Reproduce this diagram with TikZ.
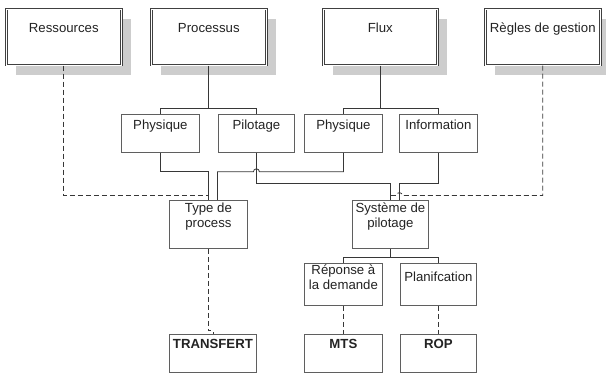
\documentclass[tikz,border=0pt]{standalone}
\usepackage{fontspec}
\setmainfont{Liberation Sans}
\usepackage{tikz}
\usetikzlibrary{positioning,calc,shadows}
\definecolor{boxgray}{RGB}{95,95,95}
\definecolor{linegray}{RGB}{55,55,55}
\definecolor{txtgray}{RGB}{35,35,35}
\definecolor{shadowgray}{RGB}{205,205,205}

\begin{document}
\begin{tikzpicture}[x=1pt, y=-1pt,
    lbl/.style={anchor=north, inner sep=0pt, align=center, text=txtgray, font=\fontsize{13.2}{15}\selectfont},
    box/.style={draw=boxgray, fill=white, line width=0.8pt, anchor=north west, inner sep=0pt, minimum width=78pt, minimum height=38pt},
    topbox/.style={box, draw=black!75, line width=0.6pt, double=white, double distance=1.2pt,
        minimum width=115pt, minimum height=56pt,
        drop shadow={shadow xshift=10pt, shadow yshift=-10pt, fill=shadowgray, opacity=1},
        label={[lbl, yshift=-14pt]north:{#1}}},
    midbox/.style={box, label={[lbl, yshift=-6pt]north:{#1}}},
    procbox/.style={box, minimum height=48pt, label={[lbl, yshift=-3pt]north:{#1}}},
    endbox/.style={box, label={[lbl, yshift=-5pt, font=\fontsize{13.2}{15}\selectfont\bfseries]north:{#1}}},
    conn/.style={draw=linegray, line width=0.8pt},
    link/.style={conn, dash pattern=on 5pt off 3pt},
]
    \useasboundingbox (0,0) rectangle (606,374);

    % top row
    \node[topbox=Ressources] (res) at (6,9) {};
    \node[topbox=Processus] (proc) at (151,9) {};
    \node[topbox=Flux, minimum width=114pt] (flux) at (323,9) {};
    \node[topbox=Règles de gestion] (regl) at (485,9) {};

    % second row
    \node[midbox=Physique] (phyA) at (121,114) {};
    \node[midbox=Pilotage, minimum width=76pt] (pil) at (218,114) {};
    \node[midbox=Physique] (phyB) at (304,114) {};
    \node[midbox=Information] (info) at (399,114) {};

    % third row
    \node[procbox={Type de\\process}] (type) at (169,200) {};
    \node[procbox={Système de\\pilotage}, minimum width=76pt] (sys) at (352,200) {};

    \node[box, minimum height=42pt, label={[lbl, yshift=-1.5pt]north:{Réponse à\\la demande}}] (rep) at (304,263) {};
    \node[box, minimum height=42pt, minimum width=76pt, label={[lbl, yshift=-9pt]north:Planifcation}] (plan) at (400,263) {};

    % bottom row
    \node[endbox=TRANSFERT, minimum width=87pt] (trans) at (169,334) {};
    \node[endbox=MTS] (mts) at (304,334) {};
    \node[endbox=ROP, minimum width=76pt] (rop) at (400,334) {};

    % trees
    \draw[conn] (proc.south) -- ++(0,43);
    \draw[conn] (phyA.north) |- ($(proc.south)+(0,43)$) -| (pil.north);
    \draw[conn] (flux.south) -- ++(0,43);
    \draw[conn] (phyB.north) |- ($(flux.south)+(0,43)$) -| (info.north);
    \draw[conn] (sys.south) -- ++(0,9);
    \draw[conn] (rep.north) |- ($(sys.south)+(0,9)$) -| (plan.north);

    % links to the process type and the control system
    \draw[conn] (phyA.south) -- ++(0,19) -| (type.north);
    \draw[conn] (phyB.south) -- ++(0,19) coordinate (cB)
        -- ($(cB -| pil.south)+(3,0)$) arc[start angle=0, end angle=-180, radius=3]
        -| ([xshift=9pt]type.north);
    \draw[conn] (pil.south) -- ++(0,31) -| (sys.north);
    \draw[conn] (info.south) -- ++(0,31) -| ([xshift=9pt]sys.north);
    \draw[link] (res.south) -- ++(0,130) -| (type.north);
    \draw[link] (regl.south) -- ++(0,130) coordinate (cR)
        -- ($(cR -| sys.north)+(12,0)$)
        arc[start angle=0, end angle=-180, radius=3] -| (sys.north);

    % dashed links to the bottom row
    \draw[link] (type.south) -- ++(0,82) -| (trans.north);
    \draw[link] (rep.south) -- (mts.north);
    \draw[link] (plan.south) -- (rop.north);
\end{tikzpicture}
\end{document}
